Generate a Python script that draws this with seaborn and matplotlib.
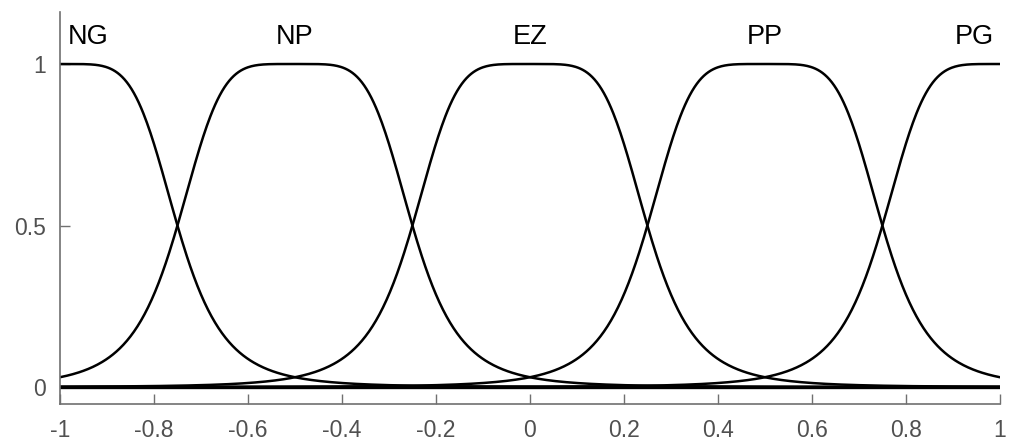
import numpy as np
import pandas as pd
import matplotlib
matplotlib.use("Agg")
import matplotlib.pyplot as plt
import seaborn as sns

# Fuzzy sets on the universe [-1, 1]: generalized bell membership functions
set_names = ["NG", "NP", "EZ", "PP", "PG"]
centers = [-1.0, -0.5, 0.0, 0.5, 1.0]
half_widths = [0.25, 0.25, 0.25, 0.25, 0.25]
slopes = [2.5, 2.5, 2.5, 2.5, 2.5]
label_x = [-0.94, -0.5, 0.0, 0.5, 0.945]
label_y = 1.085

x_ticks = [-1, -0.8, -0.6, -0.4, -0.2, 0, 0.2, 0.4, 0.6, 0.8, 1]
x_tick_labels = ["-1", "-0.8", "-0.6", "-0.4", "-0.2", "0", "0.2", "0.4", "0.6", "0.8", "1"]
y_ticks = [0, 0.5, 1]
y_tick_labels = ["0", "0.5", "1"]


def gbellmf(x, a, b, c):
    return 1.0 / (1.0 + np.abs((x - c) / a) ** (2 * b))


xs = np.linspace(-1, 1, 801)
frames = []
for name, a, b, c in zip(set_names, half_widths, slopes, centers):
    frames.append(pd.DataFrame({"x": xs, "mu": gbellmf(xs, a, b, c), "set": name}))
df = pd.concat(frames, ignore_index=True)

sns.set_theme(style="white")
plt.rcParams["font.family"] = ["Liberation Sans", "DejaVu Sans"]

fig = plt.figure(figsize=(10.11, 4.45), dpi=100)
ax = fig.add_axes([0.0593, 0.0921, 0.9297, 0.8809])

sns.lineplot(data=df, x="x", y="mu", units="set", estimator=None,
             color="black", linewidth=1.8, ax=ax, legend=False)
# baseline where the tails of all sets meet
ax.plot([-1, 1], [0.0, 0.0], color="black", linewidth=2.4)

for name, lx in zip(set_names, label_x):
    ax.text(lx, label_y, name, ha="center", va="center",
            fontsize=19.5, color="black")

ax.set_xlim(-1, 1)
ax.set_ylim(-0.0526, 1.161)
ax.set_xticks(x_ticks)
ax.set_xticklabels(x_tick_labels)
ax.set_yticks(y_ticks)
ax.set_yticklabels(y_tick_labels)
ax.set_xlabel("")
ax.set_ylabel("")

grey = "#707070"
for side in ["top", "right"]:
    ax.spines[side].set_visible(False)
for side in ["left", "bottom"]:
    ax.spines[side].set_color(grey)
    ax.spines[side].set_linewidth(1.2)
ax.tick_params(axis="both", direction="in", length=7, width=1.0,
               colors=grey, labelcolor="#505050", labelsize=16.5,
               bottom=True, left=True)
ax.tick_params(axis="x", pad=11)
ax.tick_params(axis="y", pad=10)

fig.savefig("out.png", dpi=100)
